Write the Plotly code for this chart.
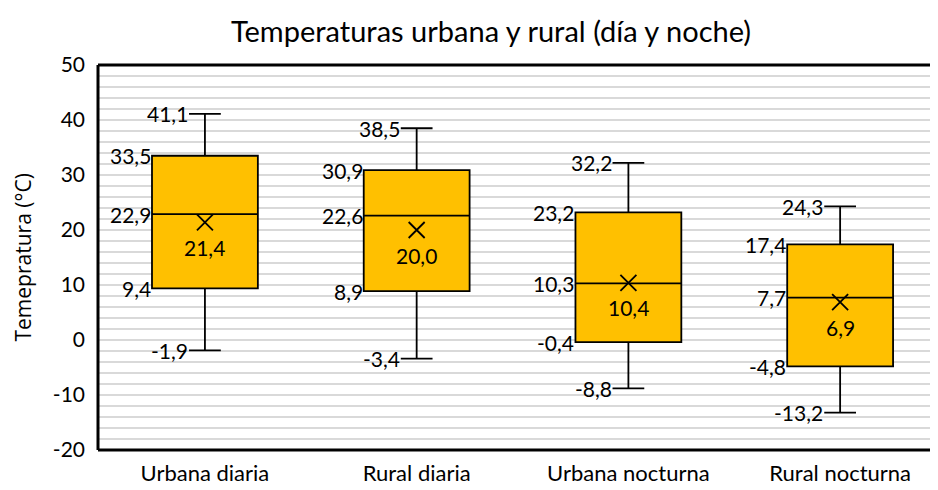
import plotly.graph_objects as go

categories = ["Urbana diaria", "Rural diaria", "Urbana nocturna", "Rural nocturna"]
mins = [-1.9, -3.4, -8.8, -13.2]
q1s = [9.4, 8.9, -0.4, -4.8]
medians = [22.9, 22.6, 10.3, 7.7]
q3s = [33.5, 30.9, 23.2, 17.4]
maxs = [41.1, 38.5, 32.2, 24.3]
means = [21.4, 20.0, 10.4, 6.9]
y_ticks = [-20, -10, 0, 10, 20, 30, 40, 50]
y_tick_labels = ["-20", "-10", "0", "10", "20", "30", "40", "50"]

FONT = "Lato, Carlito, Calibri, sans-serif"
BOX_W = 0.5
WW = 0.3

def fmt(v):
    return f"{v:.1f}".replace(".", ",")

xs = list(range(len(categories)))

fig = go.Figure()
fig.add_trace(go.Box(
    x=xs, q1=q1s, median=medians, q3=q3s, lowerfence=mins, upperfence=maxs,
    width=BOX_W, whiskerwidth=WW,
    fillcolor="#FFC000", line=dict(color="black", width=1.8),
    boxpoints=False, showlegend=False, hoverinfo="skip",
))
fig.add_trace(go.Scatter(
    x=xs, y=means, mode="markers",
    marker=dict(symbol="x-thin-open", size=16, color="black",
                line=dict(color="black", width=1.8)),
    showlegend=False, hoverinfo="skip",
))

ann = []
lab_font = dict(family=FONT, size=21, color="black")
for i in xs:
    for v, off in [(maxs[i], BOX_W / 2 * WW), (q3s[i], BOX_W / 2), (medians[i], BOX_W / 2),
                   (q1s[i], BOX_W / 2), (mins[i], BOX_W / 2 * WW)]:
        ann.append(dict(x=i - off, y=v, text=fmt(v), showarrow=False, xanchor="right",
                        yanchor="middle", font=lab_font, xshift=1))
    ann.append(dict(x=i, y=means[i], text=fmt(means[i]), showarrow=False, xanchor="center",
                    yanchor="middle", yshift=-25, font=lab_font))

# y-axis title as rotated annotation
ann.append(dict(x=0, xref="paper", xanchor="center", xshift=-76, y=0.5, yref="paper",
                yanchor="middle", text="Temepratura (°C)", textangle=-90, showarrow=False,
                font=dict(family="Open Sans, sans-serif", size=21, color="black")))

fig.update_layout(
    width=938, height=490,
    margin=dict(l=90, r=0, t=57, b=48),
    paper_bgcolor="white", plot_bgcolor="white",
    font=dict(family=FONT, size=21, color="black"),
    annotations=ann,
    title=dict(text="Temperaturas urbana y rural (día y noche)", x=483 / 938, xref="container",
               xanchor="center", y=1 - 24 / 490, yref="container", yanchor="middle",
               font=dict(family=FONT, size=29, color="black")),
    xaxis=dict(
        range=[-0.505, 3.50], tickvals=xs, ticktext=categories,
        showgrid=False, zeroline=False, showline=False, ticks="",
        tickfont=dict(family=FONT, size=22), ticklabelstandoff=8,
    ),
    yaxis=dict(
        range=[-20, 50], tickvals=y_ticks, ticktext=y_tick_labels,
        showgrid=True, gridcolor="#d9d9d9", gridwidth=2,
        minor=dict(dtick=2, tick0=0, showgrid=True, gridcolor="#d9d9d9", gridwidth=2),
        zeroline=False, showline=False, ticks="",
        tickfont=dict(family=FONT, size=21), ticklabelstandoff=12,
    ),
    shapes=[
        dict(type="line", xref="paper", yref="paper", x0=0, x1=0, y0=0, y1=1,
             line=dict(color="black", width=3)),
        dict(type="line", xref="paper", yref="paper", x0=0, x1=1, y0=1, y1=1,
             line=dict(color="black", width=3)),
        dict(type="line", xref="paper", yref="paper", x0=0, x1=1, y0=0, y1=0,
             line=dict(color="black", width=3)),
    ],
)
fig.write_html("out.html")
